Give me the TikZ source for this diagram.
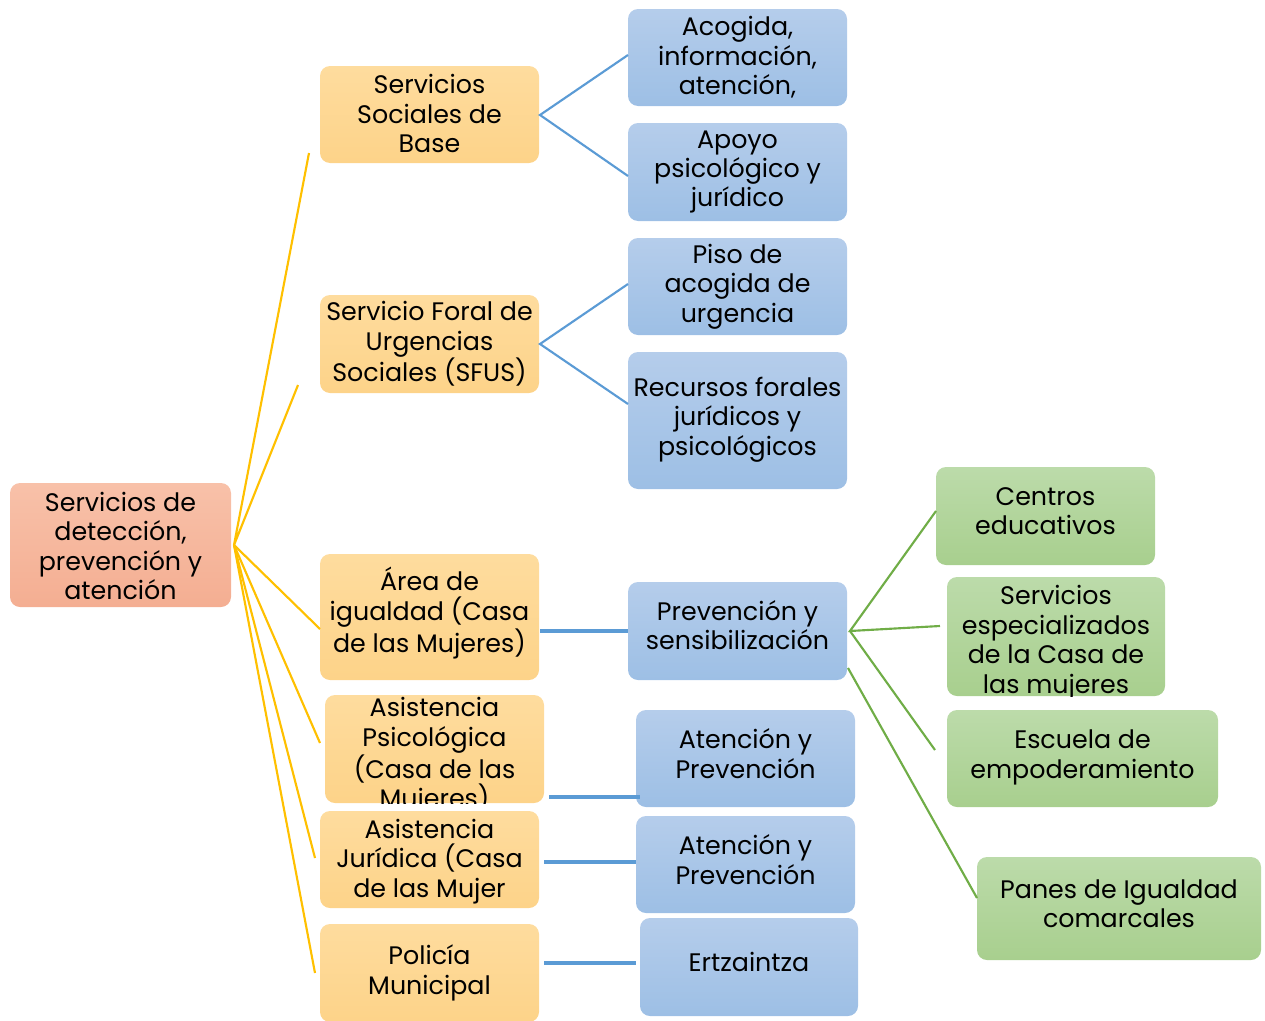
\documentclass[tikz,border=0pt]{standalone}
\usepackage{fontspec}
\setmainfont{Poppins}
\definecolor{yline}{HTML}{FFC000}
\definecolor{bline}{HTML}{5B9BD5}
\definecolor{gline}{HTML}{70AD47}
\definecolor{rootT}{HTML}{F8C1A9}
\definecolor{rootB}{HTML}{F4AE92}
\definecolor{yelT}{HTML}{FEDC9E}
\definecolor{yelB}{HTML}{FDD389}
\definecolor{bluT}{HTML}{B5CDEB}
\definecolor{bluB}{HTML}{9DBFE5}
\definecolor{greT}{HTML}{BCDBAA}
\definecolor{greB}{HTML}{A8CF8E}
\tikzset{
  box/.style={rounded corners=7.5pt, inner sep=0pt},
  rootbox/.style={box, top color=rootT, bottom color=rootB},
  ybox/.style={box, top color=yelT, bottom color=yelB},
  bbox/.style={box, top color=bluT, bottom color=bluB},
  gbox/.style={box, top color=greT, bottom color=greB},
  txt/.style={align=center, inner sep=0pt, text=black, font=\fontsize{19}{22.1}\selectfont},
  yl/.style={draw=yline, line width=1.6pt},
  bl/.style={draw=bline, line width=1.6pt},
  blh/.style={draw=bline, line width=2.6pt},
  gl/.style={draw=gline, line width=1.6pt},
}
% \bx{style}{name}{cx}{cy}{w px}{h px}{text dy px}{text}
\newcommand{\bx}[8]{%
  \node[#1, minimum width=#5*0.75pt, minimum height=#6*0.75pt] (#2) at (#3,#4) {};
  \begin{scope}
  \clip[rounded corners=7.5pt] (#2.south west) rectangle (#2.north east);
  \node[txt] (#2-t) at (#3,#4+#7) {#8};
  \end{scope}}
\begin{document}
\begin{tikzpicture}[x=0.75pt,y=-0.75pt]
\useasboundingbox (0,0) rectangle (1265,1021);
% root
\bx{rootbox}{root}{120.5}{545}{221}{124}{1}{Servicios de\\detección,\\prevención y\\atención}
% yellow boxes
\bx{ybox}{ssb}{429.5}{114.5}{219}{97}{-1}{Servicios\\Sociales de\\Base}
\bx{ybox}{sfus}{429.5}{344}{219}{98}{0}{Servicio Foral de\\Urgencias\\Sociales (SFUS)}
\bx{ybox}{area}{429.5}{617}{219}{126}{-4}{Área de\\igualdad (Casa\\de las Mujeres)}
\bx{ybox}{asisp}{434.5}{749}{219}{108}{7}{Asistencia\\Psicológica\\(Casa de las\\Mujeres)}
\bx{ybox}{asisj}{429.5}{859.5}{219}{97}{2}{Asistencia\\Jurídica (Casa\\de las Mujer}
\bx{ybox}{pol}{429.5}{973}{219}{98}{0}{Policía\\Municipal}
% blue boxes
\bx{bbox}{acog}{737.5}{57.5}{219}{97}{0}{Acogida,\\información,\\atención,}
\bx{bbox}{apoyo}{737.5}{172}{219}{98}{0}{Apoyo\\psicológico y\\jurídico}
\bx{bbox}{piso}{737.5}{286.5}{219}{97}{0}{Piso de\\acogida de\\urgencia}
\bx{bbox}{recur}{737.5}{420.5}{219}{137}{-1}{Recursos forales\\jurídicos y\\psicológicos}
\bx{bbox}{prev}{737.5}{631}{219}{98}{-6}{Prevención y\\sensibilización}
\bx{bbox}{at1}{745.5}{758.5}{219}{97}{-5}{Atención y\\Prevención}
\bx{bbox}{at2}{745.5}{864.5}{219}{97}{-5}{Atención y\\Prevención}
\bx{bbox}{ertz}{749}{967}{218}{98}{-5}{Ertzaintza}
% green boxes
\bx{gbox}{centros}{1045.5}{516}{219}{98}{-5}{Centros\\educativos}
\bx{gbox}{serv}{1056}{636.5}{218}{119}{6}{Servicios\\especializados\\de la Casa de\\las mujeres}
\bx{gbox}{escuela}{1082.5}{758.5}{271}{97}{-1}{Escuela de\\empoderamiento}
\bx{gbox}{panes}{1119}{908.5}{284}{103}{-5}{Panes de Igualdad\\comarcales}
% connector points
\coordinate (r0) at (234,545);
\coordinate (y1) at (309,153);
\coordinate (y2) at (298,385);
\coordinate (y3) at (320,629);
\coordinate (y4) at (320,743);
\coordinate (y5) at (315,858);
\coordinate (y6) at (315,973);
\draw[yl] (y1) -- (r0) -- (y2);
\draw[yl] (r0) -- (y3);
\draw[yl] (r0) -- (y4);
\draw[yl] (r0) -- (y5);
\draw[yl] (r0) -- (y6);
\coordinate (b1) at (540,115);
\coordinate (b1a) at (628,55);
\coordinate (b1b) at (628,176);
\draw[bl] (b1a) -- (b1) -- (b1b);
\coordinate (b2) at (540,344);
\coordinate (b2a) at (628,284);
\coordinate (b2b) at (628,404);
\draw[bl] (b2a) -- (b2) -- (b2b);
\coordinate (h1a) at (540,631);
\coordinate (h1b) at (628,631);
\draw[blh] (h1a) -- (h1b);
\coordinate (h2a) at (549,797);
\coordinate (h2b) at (640,797);
\draw[blh] (h2a) -- (h2b);
\coordinate (h3a) at (544,862);
\coordinate (h3b) at (636,862);
\draw[blh] (h3a) -- (h3b);
\coordinate (h4a) at (544,963);
\coordinate (h4b) at (636,963);
\draw[blh] (h4a) -- (h4b);
\coordinate (g0) at (850,631);
\coordinate (g1) at (936,511);
\coordinate (g2) at (940,626);
\coordinate (g3) at (935,750);
\coordinate (g4s) at (848,668);
\coordinate (g4) at (977,898);
\draw[gl] (g1) -- (g0) -- (g2);
\draw[gl] (g0) -- (g3);
\draw[gl] (g4s) -- (g4);
\end{tikzpicture}
\end{document}
